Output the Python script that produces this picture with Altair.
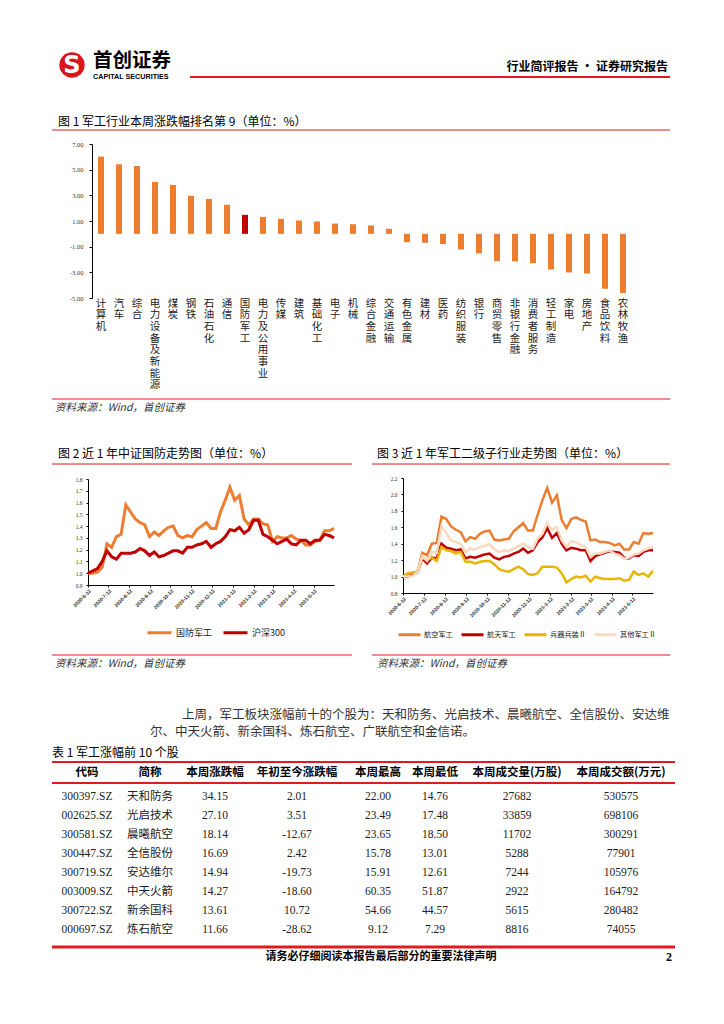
import altair as alt
import pandas as pd

W, H = 708, 1008


def P(v):
    return v - 8


RED = "#E2191F"
ORANGE = "#ED7D31"
DARKRED = "#C00000"
GOLD = "#E8B500"
PEACH = "#F9DAC0"
CJK = "Noto Sans CJK SC"
SERIF = "Liberation Serif, Noto Sans CJK SC"
SANS = "Liberation Sans, Noto Sans CJK SC"

# ---------------- Figure 1 data ----------------
industries = ["计算机", "汽车", "综合", "电力设备及新能源", "煤炭", "钢铁", "石油石化", "通信",
              "国防军工", "电力及公用事业", "传媒", "建筑", "基础化工", "电子", "机械", "综合金融",
              "交通运输", "有色金属", "建材", "医药", "纺织服装", "银行", "商贸零售", "非银行金融",
              "消费者服务", "轻工制造", "家电", "房地产", "食品饮料", "农林牧渔"]
weekly_change = [6.02, 5.42, 5.29, 4.05, 3.81, 2.96, 2.72, 2.26, 1.48, 1.32, 1.17, 1.04, 0.96,
                 0.80, 0.75, 0.65, 0.39, -0.65, -0.70, -0.80, -1.22, -1.53, -2.13, -2.15, -2.28,
                 -2.78, -3.01, -3.09, -4.28, -4.62]
bar_ticks = [-5, -3, -1, 1, 3, 5, 7]

# ---------------- Figure 2 / 3 data ----------------
week_dates = pd.date_range("2020-06-12", periods=53, freq="7D")
date_ticks = ["2020-6-12", "2020-7-12", "2020-8-12", "2020-9-12", "2020-10-12", "2020-11-12",
              "2020-12-12", "2021-1-12", "2021-2-12", "2021-3-12", "2021-4-12", "2021-5-12"]

defense_idx = [1.00, 1.00, 1.01, 1.05, 1.25, 1.22, 1.31, 1.33, 1.58, 1.52, 1.46, 1.43, 1.41,
               1.31, 1.35, 1.32, 1.36, 1.39, 1.40, 1.32, 1.30, 1.32, 1.31, 1.37, 1.40, 1.43,
               1.38, 1.38, 1.52, 1.62, 1.73, 1.62, 1.66, 1.46, 1.41, 1.46, 1.46, 1.42, 1.41,
               1.27, 1.31, 1.30, 1.30, 1.32, 1.29, 1.28, 1.24, 1.24, 1.27, 1.28, 1.36, 1.36, 1.38]
hs300_idx = [1.00, 1.02, 1.04, 1.10, 1.19, 1.14, 1.12, 1.17, 1.17, 1.17, 1.18, 1.21, 1.19,
             1.15, 1.18, 1.14, 1.15, 1.17, 1.19, 1.19, 1.17, 1.22, 1.22, 1.24, 1.25, 1.27,
             1.22, 1.25, 1.27, 1.31, 1.37, 1.36, 1.39, 1.34, 1.37, 1.45, 1.45, 1.33, 1.31,
             1.28, 1.25, 1.27, 1.29, 1.25, 1.24, 1.28, 1.28, 1.25, 1.28, 1.28, 1.33, 1.32, 1.30]
fig2_series = ["国防军工", "沪深300"]
fig2_ticks = [0.9, 1.0, 1.1, 1.2, 1.3, 1.4, 1.5, 1.6, 1.7, 1.8]

aviation_idx = [1.00, 1.01, 1.02, 1.06, 1.29, 1.26, 1.40, 1.41, 1.73, 1.70, 1.61, 1.57, 1.54,
                1.43, 1.48, 1.46, 1.52, 1.55, 1.56, 1.45, 1.44, 1.45, 1.46, 1.55, 1.60, 1.65,
                1.56, 1.56, 1.75, 1.93, 2.08, 1.90, 1.99, 1.69, 1.59, 1.70, 1.72, 1.69, 1.67,
                1.44, 1.45, 1.42, 1.42, 1.41, 1.38, 1.40, 1.33, 1.33, 1.42, 1.40, 1.53, 1.52, 1.53]
aerospace_idx = [1.00, 1.00, 1.02, 1.05, 1.22, 1.16, 1.23, 1.22, 1.40, 1.35, 1.34, 1.32, 1.33,
                 1.22, 1.24, 1.23, 1.25, 1.27, 1.28, 1.23, 1.21, 1.24, 1.25, 1.28, 1.30, 1.34,
                 1.29, 1.32, 1.42, 1.48, 1.59, 1.47, 1.53, 1.40, 1.32, 1.35, 1.34, 1.32, 1.32,
                 1.19, 1.25, 1.27, 1.29, 1.31, 1.30, 1.29, 1.23, 1.22, 1.26, 1.25, 1.30, 1.32, 1.32]
ordnance_idx = [1.00, 1.04, 1.05, 1.06, 1.23, 1.20, 1.23, 1.19, 1.36, 1.32, 1.31, 1.28, 1.30,
                1.18, 1.18, 1.16, 1.18, 1.19, 1.19, 1.15, 1.09, 1.07, 1.06, 1.09, 1.12, 1.09,
                1.03, 1.02, 1.04, 1.12, 1.12, 1.12, 1.11, 1.04, 0.93, 0.97, 1.00, 0.99, 1.01,
                0.94, 1.00, 0.98, 0.97, 0.97, 0.97, 0.98, 0.95, 0.96, 1.06, 1.02, 1.04, 1.00, 1.07]
other_idx = [1.00, 1.00, 1.01, 1.05, 1.25, 1.19, 1.30, 1.29, 1.61, 1.53, 1.44, 1.42, 1.40,
             1.30, 1.34, 1.33, 1.36, 1.37, 1.40, 1.33, 1.30, 1.32, 1.31, 1.34, 1.37, 1.40,
             1.36, 1.34, 1.46, 1.52, 1.65, 1.57, 1.60, 1.44, 1.36, 1.43, 1.42, 1.38, 1.36,
             1.24, 1.28, 1.28, 1.30, 1.32, 1.28, 1.26, 1.22, 1.23, 1.27, 1.28, 1.32, 1.34, 1.36]
fig3_series = ["航空军工", "航天军工", "兵器兵装Ⅱ", "其他军工Ⅱ"]
fig3_ticks = [0.8, 1.0, 1.2, 1.4, 1.6, 1.8, 2.0, 2.2]

# ---------------- Table data ----------------
table_headers = ["代码", "简称", "本周涨跌幅", "年初至今涨跌幅", "本周最高", "本周最低",
                 "本周成交量(万股)", "本周成交额(万元)"]
codes = ["300397.SZ", "002625.SZ", "300581.SZ", "300447.SZ", "300719.SZ", "003009.SZ",
         "300722.SZ", "000697.SZ"]
names = ["天和防务", "光启技术", "晨曦航空", "全信股份", "安达维尔", "中天火箭", "新余国科", "炼石航空"]
week_pct = [34.15, 27.10, 18.14, 16.69, 14.94, 14.27, 13.61, 11.66]
ytd_pct = [2.01, 3.51, -12.67, 2.42, -19.73, -18.60, 10.72, -28.62]
week_high = [22.00, 23.49, 23.65, 15.78, 15.91, 60.35, 54.66, 9.12]
week_low = [14.76, 17.48, 18.50, 13.01, 12.61, 51.87, 44.57, 7.29]
volume = [27682, 33859, 11702, 5288, 7244, 2922, 5615, 8816]
turnover = [530575, 698106, 300291, 77901, 105976, 164792, 280482, 74055]

paragraph = ["上周，军工板块涨幅前十的个股为：天和防务、光启技术、晨曦航空、全信股份、安达维",
             "尔、中天火箭、新余国科、炼石航空、广联航空和金信诺。"]

one = pd.DataFrame({"k": [0]})


def text(s, x, y, size=11, align="left", weight="normal", font=CJK, color="#000",
         style="normal", baseline="middle"):
    return alt.Chart(one).mark_text(
        text=s, align=align, baseline=baseline, fontSize=size, fontWeight=weight,
        font=font, color=color, fontStyle=style
    ).encode(x=alt.value(P(x)), y=alt.value(P(y)))


def hline(x1, x2, y, w=1, color=RED):
    return alt.Chart(one).mark_rule(color=color, strokeWidth=w).encode(
        x=alt.value(P(x1)), x2=alt.value(P(x2)), y=alt.value(P(y)))


layers = []

# ---------------- Header ----------------
layers.append(alt.Chart(one).mark_point(shape="circle", filled=True, size=640, color="#D8161E",
                                        opacity=1).encode(x=alt.value(P(72)), y=alt.value(P(65))))
layers.append(text("S", 72, 66, size=24, align="center", weight="bold", font="DejaVu Sans",
                   color="#FFFFFF"))
layers.append(text("首创证券", 93, 61, size=19.5, weight="bold"))
layers.append(text("CAPITAL SECURITIES", 93, 76.5, size=7.2, weight="bold", font="Liberation Sans"))
layers.append(text("行业简评报告 · 证券研究报告", 668, 67, size=12, align="right", weight="bold"))
layers.append(hline(190, 670, 77, w=2))

# ---------------- Figure 1 ----------------
layers.append(text("图 1  军工行业本周涨跌幅排名第 9（单位：%）", 58, 122, size=12))
layers.append(hline(52, 670, 130, w=1))

minus_fix = "replace(format(datum.value, '.2f'), '\u2212', '-')"
bar_x_scale = alt.Scale(domain=industries, range=[P(92), P(632)], paddingInner=0, paddingOuter=0)
bar_df = pd.DataFrame({"industry": industries, "change": weekly_change})
bars = alt.Chart(bar_df).mark_bar(size=6).encode(
    x=alt.X("industry:N", scale=bar_x_scale,
            axis=alt.Axis(orient="bottom", offset=P(234) - H, title=None, domainColor="#000",
                          tickColor="#000", tickSize=3, tickBand="extent", labels=False)),
    y=alt.Y("change:Q", scale=alt.Scale(domain=[-5, 7], range=[P(298), P(144)], nice=False),
            axis=alt.Axis(orient="left", offset=-P(92), title=None, values=bar_ticks,
                          labelExpr=minus_fix, tickSize=3, tickColor="#000", domainColor="#000",
                          labelFont=SERIF, labelFontSize=6.5, labelPadding=6, labelColor="#333",
                          grid=False)),
    y2=alt.datum(0),
    color=alt.condition(alt.datum.industry == "国防军工", alt.value(DARKRED), alt.value(ORANGE)),
)
# category names written vertically, one character per line
char_df = pd.DataFrame([{"industry": ind, "ch": ch, "pos": i}
                        for ind in industries for i, ch in enumerate(ind)])
cat_labels = alt.Chart(char_df).mark_text(font=CJK, fontSize=10.5, color="#222", align="center",
                                          baseline="middle").encode(
    x=alt.X("industry:N", scale=bar_x_scale, axis=None),
    y=alt.Y("pos:Q", scale=alt.Scale(domain=[0, 7], range=[P(303.5), P(303.5 + 7 * 11.7)]),
            axis=None),
    text="ch:N",
)
layers.append(alt.layer(bars, cat_labels).resolve_scale(y="independent"))
layers.append(hline(52, 670, 399, w=1))
layers.append(text("资料来源：Wind，首创证券", 55, 408, size=10.5, style="italic", color="#333"))

# ---------------- Figure 2 & 3 ----------------
tick_vals = [alt.DateTime(year=int(a), month=int(b), date=int(c))
             for a, b, c in (s.split("-") for s in date_ticks)]
time_domain = [alt.DateTime(year=2020, month=6, date=12), alt.DateTime(year=2021, month=6, date=11)]


def date_axis(ypage):
    return alt.Axis(orient="bottom", offset=P(ypage) - H, title=None, values=tick_vals,
                    format="%Y-%-m-%d", labelAngle=315, labelFont=SANS, labelFontSize=5,
                    labelFontWeight="bold", labelColor="#333", labelPadding=1,
                    labelOverlap=False, tickSize=2, tickColor="#000", domainColor="#000",
                    grid=False)


def value_axis(xpage, vals):
    return alt.Axis(orient="left", offset=-P(xpage), title=None, values=vals, format=".1f",
                    labelFont=SERIF, labelFontSize=5.5, labelColor="#333", labelPadding=4,
                    tickSize=2, tickColor="#000", domainColor="#000", grid=False)


layers.append(text("图 2  近 1 年中证国防走势图（单位：%）", 58, 454, size=12))
layers.append(hline(52, 352, 464, w=1))
layers.append(text("图 3  近 1 年军工二级子行业走势图（单位：%）", 377, 454, size=12))
layers.append(hline(372, 670, 464, w=1))

df2 = pd.DataFrame({"date": list(week_dates) * 2,
                    "series": [fig2_series[0]] * 53 + [fig2_series[1]] * 53,
                    "value": defense_idx + hs300_idx})
fig2 = alt.Chart(df2).mark_line(strokeWidth=3).encode(
    x=alt.X("date:T", scale=alt.Scale(domain=time_domain, range=[P(88), P(334)]),
            axis=date_axis(585)),
    y=alt.Y("value:Q", scale=alt.Scale(domain=[0.9, 1.8], range=[P(585), P(479)], nice=False,
                                       zero=False), axis=value_axis(88, fig2_ticks)),
    color=alt.Color("series:N", scale=alt.Scale(domain=fig2_series, range=[ORANGE, DARKRED]),
                    legend=alt.Legend(orient="none", legendX=P(146), legendY=P(631) - 12,
                                      direction="horizontal", title=None, symbolType="stroke",
                                      symbolSize=576, symbolStrokeWidth=3, labelFont=CJK,
                                      labelFontSize=9, labelOffset=3, columnPadding=4,
                                      labelColor="#222")),
)
layers.append(fig2)

df3 = pd.DataFrame({"date": list(week_dates) * 4,
                    "series": sum([[s] * 53 for s in fig3_series], []),
                    "value": aviation_idx + aerospace_idx + ordnance_idx + other_idx})
fig3 = alt.Chart(df3).mark_line(strokeWidth=2.5).encode(
    x=alt.X("date:T", scale=alt.Scale(domain=time_domain, range=[P(403), P(653)]),
            axis=date_axis(593)),
    y=alt.Y("value:Q", scale=alt.Scale(domain=[0.8, 2.2], range=[P(593), P(478)], nice=False,
                                       zero=False), axis=value_axis(403, fig3_ticks)),
    color=alt.Color("series:N",
                    scale=alt.Scale(domain=fig3_series, range=[ORANGE, DARKRED, GOLD, PEACH]),
                    legend=alt.Legend(orient="none", legendX=P(397), legendY=P(633) - 11,
                                      direction="horizontal", title=None, symbolType="stroke",
                                      symbolSize=484, symbolStrokeWidth=3, labelFont=CJK,
                                      labelFontSize=7.2, labelOffset=2, columnPadding=2,
                                      labelColor="#222")),
)
layers.append(fig3)

layers.append(hline(52, 352, 655, w=1))
layers.append(hline(372, 670, 655, w=1))
layers.append(text("资料来源：Wind，首创证券", 55, 664, size=10.5, style="italic", color="#333"))
layers.append(text("资料来源：Wind，首创证券", 377, 664, size=10.5, style="italic", color="#333"))

# ---------------- Paragraph ----------------
layers.append(text(paragraph[0], 182, 715, size=12.5, color="#333"))
layers.append(text(paragraph[1], 150, 732, size=12.5, color="#333"))

# ---------------- Table ----------------
layers.append(text("表 1  军工涨幅前 10 个股", 52, 753, size=12))
layers.append(hline(52, 675, 762, w=2))
layers.append(hline(52, 675, 783, w=2))
layers.append(hline(52, 675, 947, w=3))

col_x = [87, 150, 215, 297, 378, 435, 517, 621]
for hdr, cx in zip(table_headers, col_x):
    layers.append(text(hdr, cx, 773, size=11.5, align="center", weight="bold"))

tbl = pd.DataFrame({"row": list(range(len(codes))), "code": codes, "name": names,
                    "wk": [f"{v:.2f}" for v in week_pct], "ytd": [f"{v:.2f}" for v in ytd_pct],
                    "hi": [f"{v:.2f}" for v in week_high], "lo": [f"{v:.2f}" for v in week_low],
                    "vol": [str(v) for v in volume], "amt": [str(v) for v in turnover]})
row_scale = alt.Scale(domain=[0, len(codes) - 1], range=[P(797), P(930)])
fields = ["code", "name", "wk", "ytd", "hi", "lo", "vol", "amt"]
tbl_layers = []
for f, cx in zip(fields, col_x):
    tbl_layers.append(alt.Chart(tbl).mark_text(font=SERIF, fontSize=11.5, color="#222",
                                               align="center", baseline="middle").encode(
        x=alt.value(P(cx)), y=alt.Y("row:Q", scale=row_scale, axis=None),
        text=alt.Text(f"{f}:N")))
layers.append(alt.layer(*tbl_layers))

# ---------------- Footer ----------------
layers.append(text("请务必仔细阅读本报告最后部分的重要法律声明", 381, 957, size=11, align="center",
                   weight="bold"))
layers.append(text("2", 669, 957, size=12, align="center", weight="bold", font=SERIF))

chart = alt.layer(*layers).resolve_scale(
    x="independent", y="independent", color="independent"
).properties(
    width=W, height=H, autosize=alt.AutoSizeParams(type="none"), padding=0, background="white"
).configure_view(stroke=None)

chart.save("out.html", embed_options={"renderer": "svg", "actions": False})
